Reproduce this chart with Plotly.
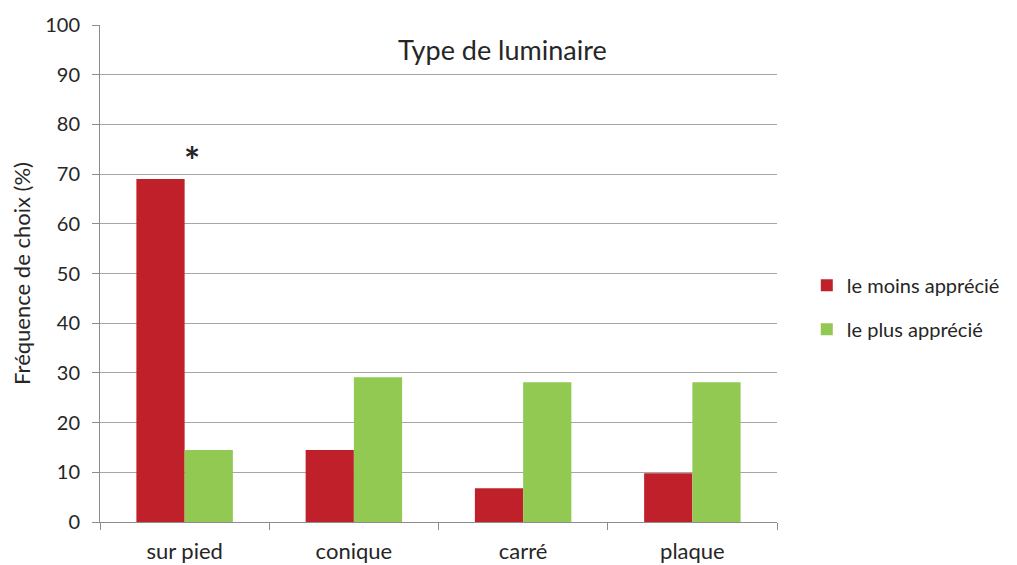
import plotly.graph_objects as go

categories = ["sur pied", "conique", "carré", "plaque"]
moins_apprecie = [69.0, 14.5, 6.8, 9.8]
plus_apprecie = [14.5, 29.1, 28.1, 28.1]
y_ticks = [0, 10, 20, 30, 40, 50, 60, 70, 80, 90, 100]

RED = "#C0202A"
GREEN = "#92C953"
FONT = "Lato, 'Open Sans', sans-serif"
TXT = "#262626"

fig = go.Figure()
fig.add_trace(go.Bar(x=categories, y=moins_apprecie, name="le moins apprécié",
                     marker=dict(color=RED, line=dict(width=0)), legendgroup="a"))
fig.add_trace(go.Bar(x=categories, y=plus_apprecie, name="le plus apprécié",
                     marker=dict(color=GREEN, line=dict(width=0)), legendgroup="b"))

# page body has an 8px margin, so the figure is offset by 8px
fig.update_layout(
    width=1009, height=557,
    margin=dict(l=92, r=240, t=17, b=43),
    paper_bgcolor="white", plot_bgcolor="white",
    barmode="group", bargap=0.43, bargroupgap=0,
    font=dict(family=FONT, size=21, color=TXT),
    showlegend=True,
    legend=dict(x=1.044, y=0.432, xanchor="left", yanchor="middle",
                traceorder="grouped", tracegroupgap=15,
                font=dict(size=20, color=TXT), itemwidth=30),
    xaxis=dict(showline=True, linecolor="#8c8c8c", linewidth=1, automargin=False,
               ticks="outside", tickson="boundaries", ticklen=7, tickcolor="#8c8c8c",
               ticklabelstandoff=10,
               showgrid=False, tickfont=dict(size=22, color=TXT)),
    yaxis=dict(range=[0, 100], tickvals=y_ticks, showline=True, linecolor="#8c8c8c",
               linewidth=1, ticks="outside", ticklen=7, tickcolor="#8c8c8c", automargin=False,
               ticklabelstandoff=8,
               showgrid=True, gridcolor="#a6a6a6", gridwidth=1, zeroline=False,
               tickfont=dict(size=20, color=TXT),
               title=dict(text="Fréquence de choix (%)", font=dict(size=22, color=TXT), standoff=14)),
    annotations=[
        dict(text="Type de luminaire", x=0.594, y=0.95, xref="paper", yref="paper",
             showarrow=False, font=dict(size=27, color=TXT), xanchor="center", yanchor="middle"),
        dict(text="<b>*</b>", x=categories[0], y=moins_apprecie[0], xref="x", yref="y",
             showarrow=False, xshift=7, yshift=19, font=dict(size=38, color=TXT),
             xanchor="center", yanchor="middle"),
    ],
)

fig.write_html("out.html")
